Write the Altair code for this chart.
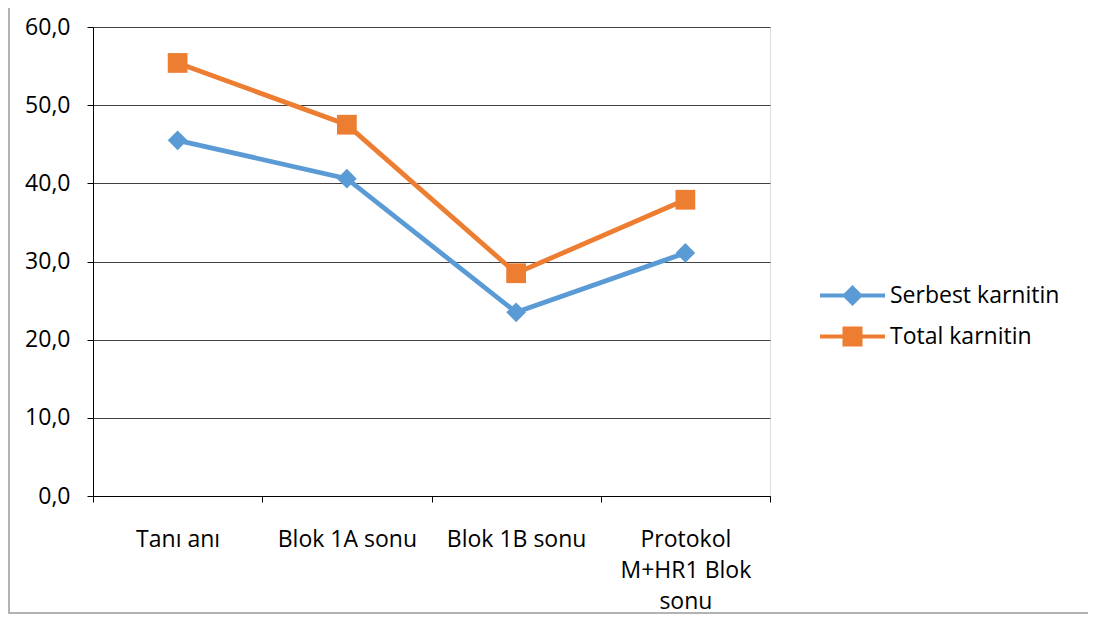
import altair as alt
import pandas as pd

categories = ["Tanı anı", "Blok 1A sonu", "Blok 1B sonu", "Protokol M+HR1 Blok sonu"]
series_names = ["Serbest karnitin", "Total karnitin"]
serbest = [45.5, 40.6, 23.5, 31.1]
total = [55.4, 47.5, 28.5, 37.9]
y_ticks = [0, 10, 20, 30, 40, 50, 60]
colors = ["#5B9BD5", "#ED7D31"]

rows = []
for name, vals in zip(series_names, [serbest, total]):
    for c, v in zip(categories, vals):
        rows.append({"kategori": c, "seri": name, "deger": v})
df = pd.DataFrame(rows)

FONT = "Open Sans"
FS = 23

x_enc = alt.X(
    "kategori:N",
    sort=categories,
    scale=alt.Scale(paddingInner=0, paddingOuter=0),
    axis=alt.Axis(
        title=None,
        labelAngle=0,
        tickBand="extent",
        tickSize=6,
        tickColor="#000000",
        domainColor="#000000",
        domainWidth=1,
        labelFont=FONT,
        labelFontSize=FS,
        labelColor="#000000",
        labelBaseline="top",
        labelPadding=26,
        labelLineHeight=31,
        labelExpr="datum.label == 'Protokol M+HR1 Blok sonu' ? ['Protokol', 'M+HR1 Blok', 'sonu'] : datum.label",
        grid=False,
    ),
)
y_enc = alt.Y(
    "deger:Q",
    scale=alt.Scale(domain=[0, 60], nice=False),
    axis=alt.Axis(
        title=None,
        values=y_ticks,
        labelExpr="replace(format(datum.value, '.1f'), '.', ',')",
        tickSize=6,
        tickColor="#000000",
        domainColor="#000000",
        domainWidth=1,
        labelFont=FONT,
        labelFontSize=FS,
        labelColor="#000000",
        labelPadding=17,
        grid=True,
        gridColor="#404040",
        gridWidth=1.2,
    ),
)

color_scale = alt.Scale(domain=series_names, range=colors)

base = alt.Chart(df)

lines = base.mark_line(strokeWidth=4.8).encode(
    x=x_enc,
    y=y_enc,
    color=alt.Color("seri:N", scale=color_scale, legend=None),
)

points = base.mark_point(filled=True, size=390, opacity=1).encode(
    x=x_enc,
    y=y_enc,
    color=alt.Color("seri:N", scale=color_scale, legend=None),
    shape=alt.Shape("seri:N", scale=alt.Scale(domain=series_names, range=["diamond", "square"]), legend=None),
)

diamond_path = "M-2.6,-0.16H2.6V0.16H-2.6Z M0,-0.84L0.84,0L0,0.84L-0.84,0Z"
square_path = "M-2.6,-0.16H2.6V0.16H-2.6Z M-0.8,-0.8H0.8V0.8H-0.8Z"

legend_props = dict(
    title=None,
    orient="none",
    legendX=747,
    legendY=256,
    padding=0,
    symbolSize=625,
    symbolStrokeWidth=0,
    symbolOpacity=1,
    labelOffset=25,
    labelLimit=400,
    labelFont=FONT,
    labelFontSize=FS,
    labelColor="#000000",
    rowPadding=16,
)

legend_layer = base.transform_filter("false").mark_point(filled=True, opacity=1).encode(
    x=x_enc,
    y=y_enc,
    color=alt.Color("seri:N", scale=color_scale, legend=alt.Legend(**legend_props)),
    shape=alt.Shape(
        "seri:N",
        scale=alt.Scale(domain=series_names, range=[diamond_path, square_path]),
        legend=alt.Legend(**legend_props),
    ),
)

frame = alt.Chart(pd.DataFrame({"a": [0]})).mark_rect(
    fill=None, stroke="#9a9a9a", strokeWidth=1.5
).encode(
    x=alt.value(-84),
    x2=alt.value(1002),
    y=alt.value(-40),
    y2=alt.value(586),
)

chart = alt.layer(frame, lines, points, legend_layer).resolve_scale(
    color="independent", shape="independent"
).properties(
    width=677,
    height=469,
    autosize=alt.AutoSizeParams(type="none"),
    padding={"left": 85, "top": 19, "right": 318, "bottom": 118},
).configure_view(stroke=None).configure(background="#ffffff")

chart.save("out.html", embed_options={"renderer": "svg", "actions": False})
